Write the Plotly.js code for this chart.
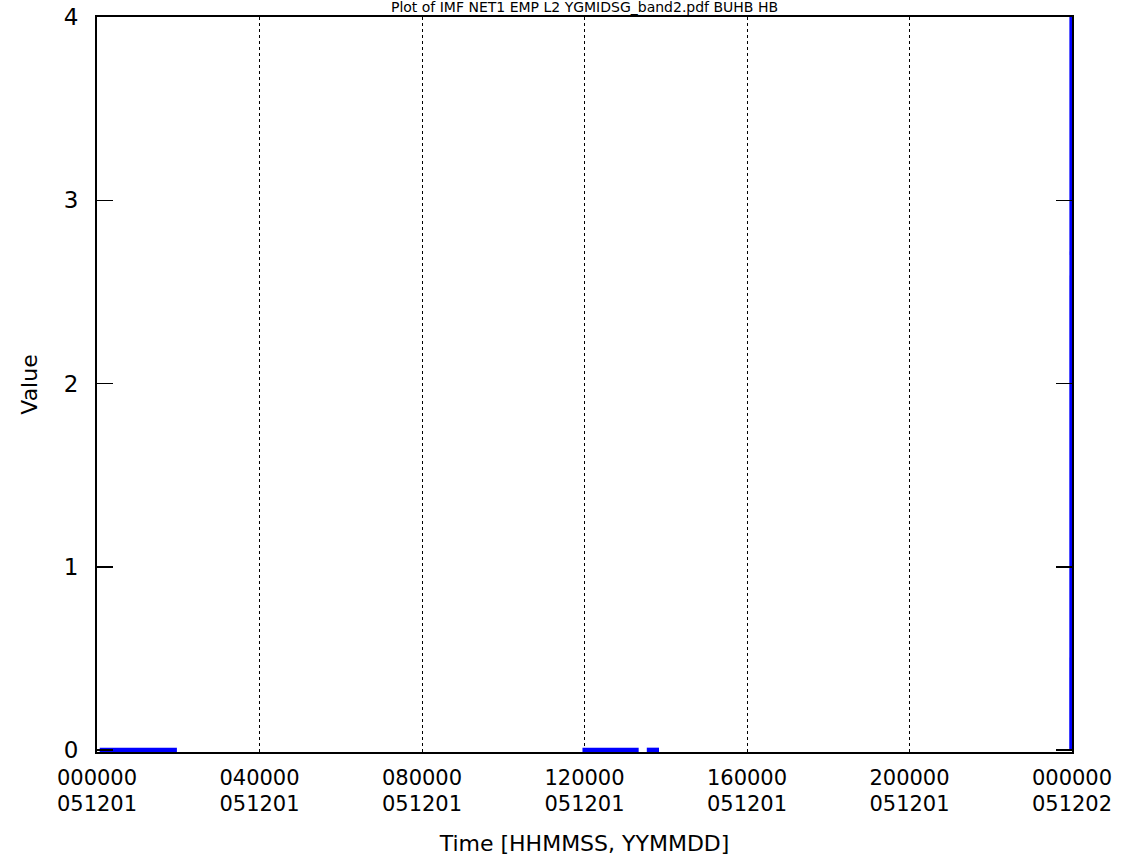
<!DOCTYPE html>
<html>
<head>
<meta charset="utf-8">
<script src="https://cdn.plot.ly/plotly-3.0.1.min.js"></script>
<style>html,body{margin:0;padding:0;background:#fff;}#chart{width:1132px;height:866px;}</style>
</head>
<body>
<div id="chart"></div>
<script>
// Data
var times = [
  "2005-12-01 00:04:00", "2005-12-01 01:58:00", null,
  "2005-12-01 11:57:00", "2005-12-01 13:20:00", null,
  "2005-12-01 13:32:00", "2005-12-01 13:50:00", null,
  "2005-12-01 23:59:40", "2005-12-01 23:59:50"
];
var values = [
  0, 0, null,
  0, 0, null,
  0, 0, null,
  0, 4.05
];
var tickTimes = [
  "2005-12-01 00:00:00", "2005-12-01 04:00:00", "2005-12-01 08:00:00",
  "2005-12-01 12:00:00", "2005-12-01 16:00:00", "2005-12-01 20:00:00",
  "2005-12-02 00:00:00"
];
var tickTimeLabels = ["000000", "040000", "080000", "120000", "160000", "200000", "000000"];
var tickDateLabels = ["051201", "051201", "051201", "051201", "051201", "051201", "051202"];
var yTicks = [0, 1, 2, 3, 4];

var trace = {
  x: times,
  y: values,
  type: "scatter",
  mode: "lines",
  connectgaps: false,
  line: {color: "#0000ff", width: 5},
  hoverinfo: "skip"
};

var FAM = "DejaVu Sans, Verdana, sans-serif";
var tickFont = {family: FAM, size: 21, color: "#000"};
var yTickFont = {family: FAM, size: 23, color: "#000"};
var titleFont = {family: FAM, size: 22, color: "#000"};
var xRange = ["2005-12-01 00:00:00", "2005-12-02 00:00:00"];

var layout = {
  width: 1132, height: 866,
  margin: {l: 97, r: 60, t: 17, b: 114, pad: 0},
  paper_bgcolor: "#fff", plot_bgcolor: "#fff",
  showlegend: false,
  font: tickFont,
  title: {
    text: "Plot of IMF NET1 EMP L2 YGMIDSG_band2.pdf BUHB HB",
    font: {family: FAM, size: 14, color: "#000"},
    x: 0.5, xref: "paper", xanchor: "center",
    y: 0.998, yref: "container", yanchor: "top"
  },
  xaxis: {
    type: "date",
    range: xRange,
    tickmode: "array",
    tickvals: tickTimes,
    ticktext: tickTimeLabels,
    ticks: "",
    ticklabelstandoff: 6,
    showgrid: true,
    gridcolor: "#000",
    gridwidth: 1,
    griddash: "dot",
    showline: true, linecolor: "#000", linewidth: 2, mirror: true,
    zeroline: false,
    tickfont: tickFont,
    automargin: false
  },
  xaxis2: {
    type: "date",
    range: xRange,
    overlaying: "x",
    matches: "x",
    anchor: "y",
    side: "bottom",
    tickmode: "array",
    tickvals: tickTimes,
    ticktext: tickDateLabels,
    ticks: "",
    ticklabelstandoff: 37,
    showgrid: false,
    showline: false,
    zeroline: false,
    tickfont: tickFont,
    title: {text: "Time [HHMMSS, YYMMDD]", font: titleFont, standoff: 20},
    automargin: false
  },
  yaxis: {
    range: [-0.01, 4.0],
    tickmode: "array",
    tickvals: yTicks,
    ticktext: yTicks.map(String),
    ticks: "inside", ticklen: 16, tickwidth: 1.5, tickcolor: "#000",
    showgrid: false,
    showline: true, linecolor: "#000", linewidth: 2, mirror: "ticks",
    zeroline: false,
    tickfont: yTickFont,
    ticklabelstandoff: 12,
    title: {text: "Value", font: titleFont, standoff: 20},
    automargin: false
  }
};

var dummy = {x: [xRange[0]], y: [null], xaxis: "x2", yaxis: "y", type: "scatter", mode: "lines", hoverinfo: "skip", showlegend: false};

Plotly.newPlot("chart", [trace, dummy], layout, {staticPlot: true, displayModeBar: false});
</script>
</body>
</html>
